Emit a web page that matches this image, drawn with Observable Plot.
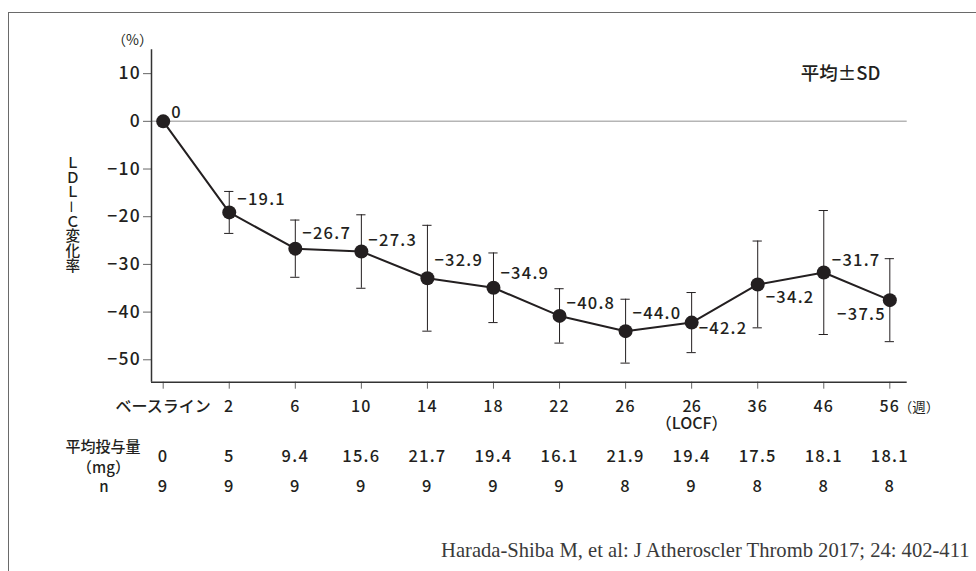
<!DOCTYPE html>
<html><head><meta charset="utf-8">
<script src="https://cdn.jsdelivr.net/npm/d3@7"></script>
<script src="https://cdn.jsdelivr.net/npm/@observablehq/plot@0.6"></script>
<style>
body{margin:0;background:#fff;}
#wrap{position:relative;width:976px;height:571px;overflow:hidden;}
#border{position:absolute;left:8px;top:12px;width:1200px;height:1200px;border-left:1.5px solid #6a6a6a;border-top:1.5px solid #6a6a6a;pointer-events:none;}
</style>
</head><body>
<div id="wrap"><div id="border"></div><div id="chart"></div></div>
<script>
// ---- data ----
const categories = ["ベースライン","2","6","10","14","18","22","26","26\n（LOCF）","36","46","56"];
const meanChange = [0,-19.1,-26.7,-27.3,-32.9,-34.9,-40.8,-44.0,-42.2,-34.2,-31.7,-37.5];
const sdValues   = [0,4.4,6.0,7.7,11.1,7.3,5.7,6.7,6.3,9.1,13.0,8.7];
const meanDose   = ["0","5","9.4","15.6","21.7","19.4","16.1","21.9","19.4","17.5","18.1","18.1"];
const nSubjects  = ["9","9","9","9","9","9","9","8","9","8","8","8"];
const yTicks     = [10,0,-10,-20,-30,-40,-50];
const yLabel     = "ＬＤＬ－Ｃ変化率";

// ---- layout (label placement, not data) ----
const labelLayout = [
  [8,-3,"start"],[8,-7,"start"],[7,-10,"start"],[7,-6,"start"],[7,-12,"start"],[7,-9,"start"],
  [7,-7,"start"],[7,-12,"start"],[7,11,"start"],[8,19,"start"],[8,-7,"start"],[-4,20,"end"]
];

const rows = categories.map((c,i)=>({i, c, v: meanChange[i], sd: sdValues[i], dose: meanDose[i], n: nSubjects[i]}));
const withSD = rows.filter(d=>d.sd>0);
const ink = "#231f20";
const fmt = d3.format(".1f");
const JP = "'Noto Sans CJK JP', 'Liberation Sans', sans-serif";

const labelMarks = rows.map((d,k)=>Plot.text([d],{
  x:"i", y:"v", text: r => r.i===0 ? "0" : fmt(r.v),
  dx: labelLayout[k][0], dy: labelLayout[k][1], textAnchor: labelLayout[k][2],
  lineAnchor:"bottom", fontSize:16.5, fill: ink, fontWeight:500
}));

const chart = Plot.plot({
  width: 976, height: 571,
  marginLeft: 151, marginRight: 69.3, marginTop: 49.3, marginBottom: 189.3,
  style: {fontFamily: JP, color: ink, background: "transparent", overflow: "visible"},
  x: {type:"linear", domain:[-0.177, 11.263], axis: null},
  y: {domain:[-54.7, 15], axis: null},
  marks: [
    Plot.ruleY([0], {stroke:"#b5b5b5", strokeWidth:1.5}),
    Plot.axisY({ticks: yTicks, tickSize: 8, tickPadding: 2.5, tickFormat: d3.format("d"),
      fontSize: 17.5, fontWeight: 500, label: null, stroke:"#666", fill: ink}),
    Plot.axisX({ticks: d3.range(categories.length), tickSize: 7, tickPadding: 11.3,
      tickFormat: i => categories[i], fontSize: 16, fontWeight: 500, lineHeight: 1.04,
      label: null, stroke:"#666", fill: ink}),
    Plot.ruleX([-0.177], {stroke:"#333", strokeWidth:1.5}),
    Plot.ruleY([-54.7], {stroke:"#333", strokeWidth:1.5}),
    // error bars
    Plot.ruleX(withSD, {x:"i", y1: d=>d.v-d.sd, y2: d=>d.v+d.sd, stroke: ink, strokeWidth: 1}),
    Plot.ruleY(withSD, {y: d=>d.v+d.sd, x1: d=>d.i-0.07, x2: d=>d.i+0.07, stroke: ink, strokeWidth: 1}),
    Plot.ruleY(withSD, {y: d=>d.v-d.sd, x1: d=>d.i-0.07, x2: d=>d.i+0.07, stroke: ink, strokeWidth: 1}),
    // mean line + dots
    Plot.line(rows, {x:"i", y:"v", stroke: ink, strokeWidth: 2}),
    Plot.dot(rows, {x:"i", y:"v", r: 7, fill: ink, stroke: "none"}),
    ...labelMarks,
    // unit labels
    Plot.text(["（%）"], {frameAnchor:"top-left", dx:-19, dy:-9.3, textAnchor:"middle", lineAnchor:"middle", fontSize:14, fill: ink}),
    Plot.text(["平均±SD"], {frameAnchor:"top-right", dx:-26.7, dy:29.7, textAnchor:"end", lineAnchor:"bottom", fontSize:18.5, fontWeight:500, fill: ink}),
    Plot.text([rows[11]], {x:"i", frameAnchor:"bottom", text: ()=>"（週）", dx: 9, dy: 29.7, textAnchor:"start", lineAnchor:"bottom", fontSize:13.5, fill: ink}),
    // vertical y label (made vertical below)
    Plot.text([yLabel], {frameAnchor:"left", dx:-78.7, dy:-2, textAnchor:"middle", lineAnchor:"bottom", fontSize:14.6, fontWeight:500, fill: ink}),
    // table rows
    Plot.text(["平均投与量"], {frameAnchor:"bottom-left", dx:-48.5, dy:70, textAnchor:"middle", lineAnchor:"bottom", fontSize:15, fontWeight:500, fill: ink}),
    Plot.text(["（mg）"], {frameAnchor:"bottom-left", dx:-48, dy:90.3, textAnchor:"middle", lineAnchor:"bottom", fontSize:15, fontWeight:500, fill: ink}),
    Plot.text(["n"], {frameAnchor:"bottom-left", dx:-47.5, dy:109.5, textAnchor:"middle", lineAnchor:"bottom", fontSize:15, fontWeight:500, fill: ink}),
    Plot.text(rows, {x:"i", text:"dose", frameAnchor:"bottom", dy:80, lineAnchor:"bottom", fontSize:16.5, fontWeight:500, fill: ink}),
    Plot.text(rows, {x:"i", text:"n", frameAnchor:"bottom", dy:110, lineAnchor:"bottom", fontSize:16.5, fontWeight:500, fill: ink}),
    // source
    Plot.text(["Harada-Shiba M, et al: J Atheroscler Thromb 2017; 24: 402-411"], {frameAnchor:"bottom-right", dx:62.3, dy:175, textAnchor:"end", lineAnchor:"bottom", fontSize:20.6, fontFamily:"'Liberation Serif', 'DejaVu Serif', serif", fill:"#3a3a3a"})
  ]
});
// styling touches: wider numerals, vertical y label
d3.select(chart).selectAll("text").each(function(){
  const t = this.textContent;
  if (/^[−\d.]+$/.test(t)) this.style.letterSpacing = "0.075em";
  if (t === yLabel) { this.style.writingMode = "vertical-rl"; this.style.textOrientation = "mixed"; }
});
document.getElementById("chart").appendChild(chart);
</script>
</body></html>
